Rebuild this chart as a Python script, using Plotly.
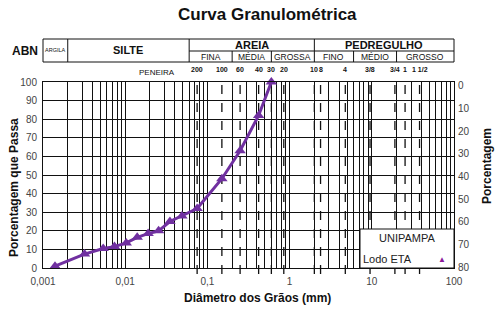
import math
import plotly.graph_objects as go

# ---- data ----
diam_mm = [0.0014, 0.0032, 0.0054, 0.0074, 0.0103, 0.014, 0.019, 0.0255, 0.035, 0.049, 0.075, 0.15, 0.25, 0.42, 0.6]
pct_pass = [1, 7.5, 10.5, 11.5, 13.5, 16.5, 18.5, 20, 25, 28, 32, 48, 63, 82, 100]

sieve_labels = ["200", "100", "60", "40", "30", "20", "10", "8", "4", "3/8", "3/4", "1", "1 1/2"]
sieve_mm = [0.075, 0.15, 0.25, 0.42, 0.6, 0.85, 2.0, 2.38, 4.76, 9.52, 19.1, 25.4, 38.1]

x_tick_vals = [0.001, 0.01, 0.1, 1, 10, 100]
x_tick_text = ["0,001", "0,01", "0,1", "1", "10", "100"]

# ABNT classes: (name, lower mm, upper mm)
main_classes = [("ARGILA", 0.001, 0.002), ("SILTE", 0.002, 0.06), ("AREIA", 0.06, 2.0), ("PEDREGULHO", 2.0, 100.0)]
sub_classes = [("FINA", 0.06, 0.2), ("MÉDIA", 0.2, 0.6), ("GROSSA", 0.6, 2.0),
               ("FINO", 2.0, 6.0), ("MÉDIO", 6.0, 20.0), ("GROSSO", 20.0, 100.0)]

W, H = 499, 311
L, R, T, B = 43, 45, 82, 43
PW, PH = W - L - R, H - T - B
XMIN, XMAX = -3, 2

def px(d):
    return (math.log10(d) - XMIN) / (XMAX - XMIN)

def pyp(py):
    return (H - B - py) / PH

def pxp(pxl):
    return (pxl - L) / PW

FONT = "Liberation Sans, Arial, sans-serif"
PURPLE = "#7030A0"

# grid tick values (all log minor lines)
grid_vals = []
grid_text = []
for k in range(-3, 2):
    for m in range(1, 10):
        v = m * 10 ** k
        grid_vals.append(v)
        grid_text.append(x_tick_text[x_tick_vals.index(v)] if m == 1 else "")
grid_vals.append(100)
grid_text.append("100")

fig = go.Figure()
fig.add_trace(go.Scatter(
    x=diam_mm, y=pct_pass, mode="lines+markers",
    line=dict(color=PURPLE, width=3),
    marker=dict(symbol="triangle-up", size=10, color=PURPLE),
    showlegend=False, cliponaxis=False, hoverinfo="skip",
))
fig.add_trace(go.Scatter(x=[None], y=[None], yaxis="y2", showlegend=False))

shapes = []
# sieve dashed lines
for d in sieve_mm:
    shapes.append(dict(type="line", xref="paper", yref="paper", x0=px(d), x1=px(d),
                       y0=-0.032, y1=1.032, line=dict(color="#111", width=1.3, dash="dash"),
                       layer="between"))
# header table
ytop, ymid, ybot = pyp(39), pyp(51), pyp(62)
shapes.append(dict(type="rect", xref="paper", yref="paper", x0=0, x1=1, y0=ybot, y1=ytop,
                   line=dict(color="#111", width=1)))
for d in [0.002, 0.06, 2.0]:
    shapes.append(dict(type="line", xref="paper", yref="paper", x0=px(d), x1=px(d), y0=ybot, y1=ytop,
                       line=dict(color="#111", width=1)))
shapes.append(dict(type="line", xref="paper", yref="paper", x0=px(0.06), x1=1, y0=ymid, y1=ymid,
                   line=dict(color="#111", width=1)))
for d in [0.2, 0.6, 6.0, 20.0]:
    shapes.append(dict(type="line", xref="paper", yref="paper", x0=px(d), x1=px(d), y0=ybot, y1=ymid,
                       line=dict(color="#111", width=1)))
# legend box
shapes.append(dict(type="rect", xref="paper", yref="paper", x0=pxp(360), x1=1, y0=0, y1=pyp(229),
                   fillcolor="white", line=dict(color="#111", width=1), layer="above"))

ann = []
def A(text, x, y, size, bold=False, color="#111", **kw):
    t = f"<b>{text}</b>" if bold else text
    ann.append(dict(text=t, x=x, y=y, xref="paper", yref="paper", showarrow=False,
                    xanchor="center", yanchor="middle",
                    font=dict(family=FONT, size=size, color=color), **kw))

A("Curva Granulométrica", pxp(267), pyp(14), 17, bold=True)
A("ABN", pxp(25), pyp(51), 12, bold=True)
for name, a, b in main_classes:
    if name == "ARGILA":
        A(name, (px(a) + px(b)) / 2, (ytop + ybot) / 2, 5.5)
    elif name == "SILTE":
        A(name, (px(a) + px(b)) / 2, (ytop + ybot) / 2, 11, bold=True)
    else:
        A(name, (px(a) + px(b)) / 2, pyp(45), 11, bold=True)
for name, a, b in sub_classes:
    A(name, (px(a) + px(b)) / 2, pyp(57.5), 8.5)
A("PENEIRA", pxp(157), pyp(72.5), 8)
for lab, d in zip(sieve_labels, sieve_mm):
    A(lab, px(d), pyp(69), 7, bold=True)
A("Porcentagem que Passa", pxp(14), pyp(188), 12, bold=True, textangle=-90)
A("Porcentagem", pxp(487), pyp(166), 12, bold=True, textangle=-90)
A("Diâmetro dos Grãos (mm)", pxp(257), pyp(298), 12, bold=True)
A("UNIPAMPA", pxp(407), pyp(238), 11, color="#222")
A("Lodo ETA", pxp(387), pyp(259), 11, color="#222")
A("▲", pxp(442), pyp(259), 8, color="#8B1A9B")

fig.update_layout(
    template="none",
    width=W, height=H,
    margin=dict(l=L, r=R, t=T, b=B, pad=0, autoexpand=False),
    paper_bgcolor="white", plot_bgcolor="white",
    font=dict(family=FONT, size=10, color="#444"),
    hovermode=False,
    xaxis=dict(type="log", range=[XMIN, XMAX], tickmode="array", tickvals=grid_vals, ticktext=grid_text,
               showgrid=True, gridcolor="#111", gridwidth=1, ticks="", showline=True, linecolor="#111",
               mirror=True, zeroline=False, tickfont=dict(size=10, color="#444"), ticklabelstandoff=4,
               automargin=False),
    yaxis=dict(range=[0, 100], dtick=10, showgrid=True, gridcolor="#111", gridwidth=1, ticks="",
               showline=True, linecolor="#111", mirror=True, zeroline=False,
               tickfont=dict(size=10, color="#444"), ticklabelstandoff=3, automargin=False),
    yaxis2=dict(overlaying="y", side="right", range=[80.4, -1.7], tickmode="array",
                tickvals=[0, 10, 20, 30, 40, 50, 60, 70, 80], showgrid=False, zeroline=False,
                ticks="", showline=False, tickfont=dict(size=10, color="#444"), ticklabelstandoff=3,
                automargin=False),
    shapes=shapes, annotations=ann,
)
fig.write_html("out.html", config={"displayModeBar": False},
               post_script="document.body.style.margin='0';document.body.style.padding='0';")
